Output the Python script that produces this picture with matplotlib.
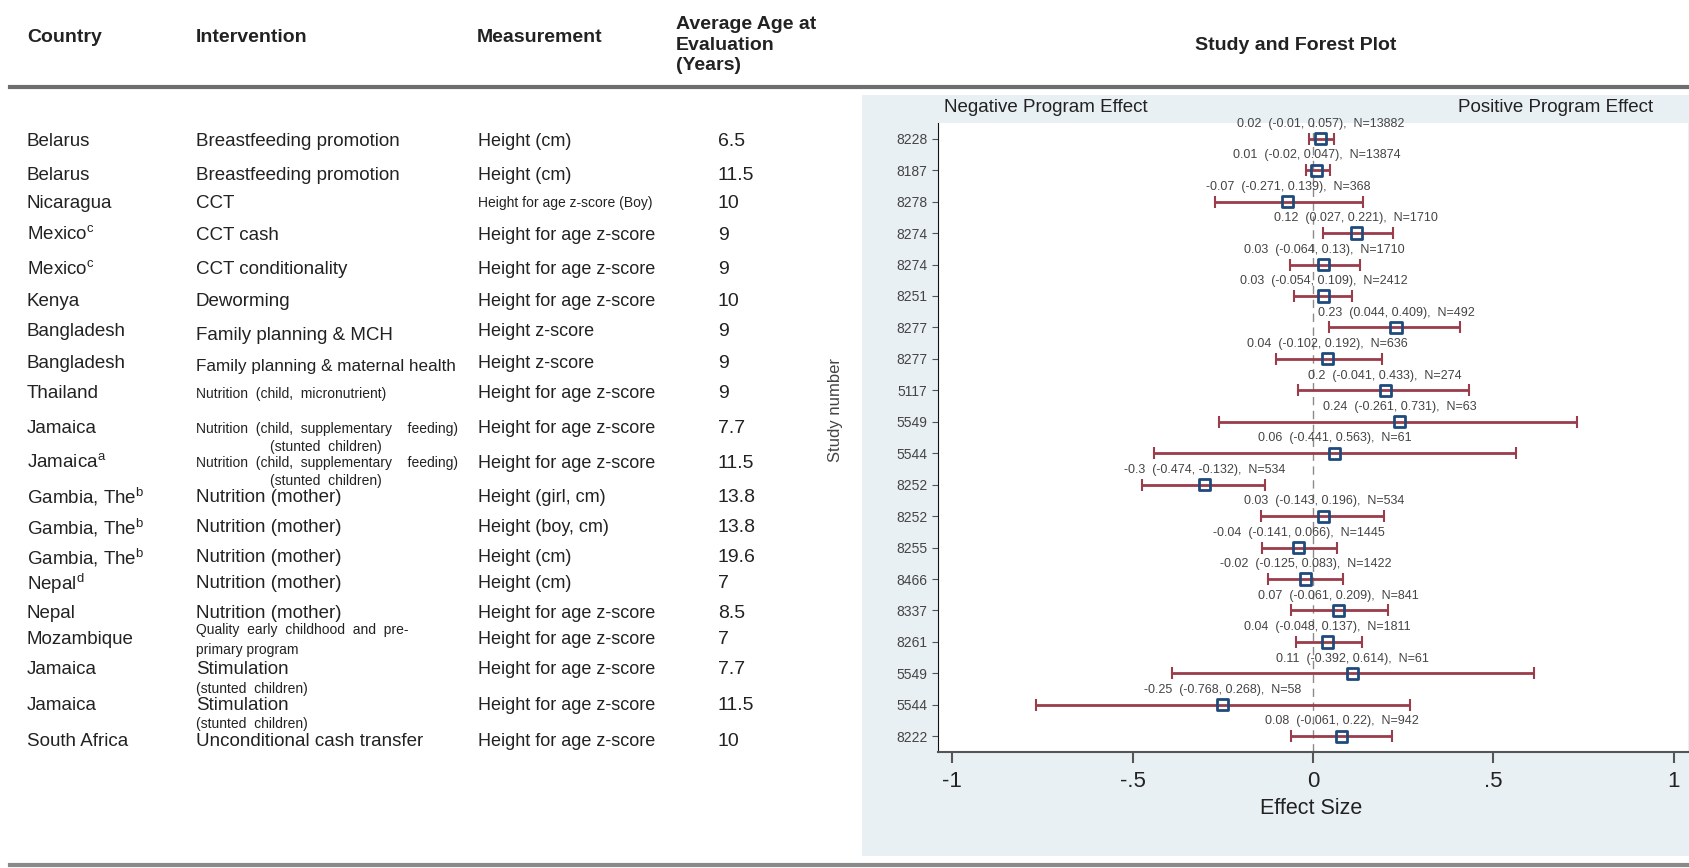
import numpy as np
import matplotlib
matplotlib.use("Agg")
import matplotlib.pyplot as plt
from matplotlib.patches import Rectangle
from matplotlib.lines import Line2D

plt.rcParams['font.family'] = ['Liberation Sans', 'DejaVu Sans']
plt.rcParams['mathtext.fontset'] = 'custom'
plt.rcParams['mathtext.rm'] = 'Liberation Sans'

# ---- table (left part)
countries = ["Belarus", "Belarus", "Nicaragua", r"Mexico$^\mathregular{c}$", r"Mexico$^\mathregular{c}$",
             "Kenya", "Bangladesh", "Bangladesh", "Thailand", "Jamaica", r"Jamaica$^\mathregular{a}$",
             r"Gambia, The$^\mathregular{b}$", r"Gambia, The$^\mathregular{b}$", r"Gambia, The$^\mathregular{b}$",
             r"Nepal$^\mathregular{d}$", "Nepal", "Mozambique", "Jamaica", "Jamaica", "South Africa"]
interventions = ["Breastfeeding promotion", "Breastfeeding promotion", "CCT", "CCT cash",
                 "CCT conditionality", "Deworming", "Family planning & MCH",
                 "Family planning & maternal health", "Nutrition  (child,  micronutrient)",
                 "Nutrition  (child,  supplementary    feeding)\n(stunted  children)",
                 "Nutrition  (child,  supplementary    feeding)\n(stunted  children)",
                 "Nutrition (mother)", "Nutrition (mother)", "Nutrition (mother)",
                 "Nutrition (mother)", "Nutrition (mother)",
                 "Quality  early  childhood  and  pre-\nprimary program",
                 "Stimulation\n(stunted  children)", "Stimulation\n(stunted  children)",
                 "Unconditional cash transfer"]
measurements = ["Height (cm)", "Height (cm)", "Height for age z-score (Boy)",
                "Height for age z-score", "Height for age z-score", "Height for age z-score",
                "Height z-score", "Height z-score", "Height for age z-score",
                "Height for age z-score", "Height for age z-score", "Height (girl, cm)",
                "Height (boy, cm)", "Height (cm)", "Height (cm)", "Height for age z-score",
                "Height for age z-score", "Height for age z-score", "Height for age z-score",
                "Height for age z-score"]
ages = [6.5, 11.5, 10, 9, 9, 10, 9, 9, 9, 7.7, 11.5, 13.8, 13.8, 19.6, 7, 8.5, 7, 7.7, 11.5, 10]

# ---- forest plot (right part)
study = ["8228", "8187", "8278", "8274", "8274", "8251", "8277", "8277", "5117", "5549",
         "5544", "8252", "8252", "8255", "8466", "8337", "8261", "5549", "5544", "8222"]
est = np.array([0.02, 0.01, -0.07, 0.12, 0.03, 0.03, 0.23, 0.04, 0.2, 0.24,
                0.06, -0.3, 0.03, -0.04, -0.02, 0.07, 0.04, 0.11, -0.25, 0.08])
lo = np.array([-0.01, -0.02, -0.271, 0.027, -0.064, -0.054, 0.044, -0.102, -0.041, -0.261,
               -0.441, -0.474, -0.143, -0.141, -0.125, -0.061, -0.048, -0.392, -0.768, -0.061])
hi = np.array([0.057, 0.047, 0.139, 0.221, 0.13, 0.109, 0.409, 0.192, 0.433, 0.731,
               0.563, -0.132, 0.196, 0.066, 0.083, 0.209, 0.137, 0.614, 0.268, 0.22])
n_obs = [13882, 13874, 368, 1710, 1710, 2412, 492, 636, 274, 63,
         61, 534, 534, 1445, 1422, 841, 1811, 61, 58, 942]

W, H = 1690, 868
fig = plt.figure(figsize=(W / 100, H / 100), dpi=100)


def fx(x):
    return x / W


def fy(y):
    return 1 - y / H


txt = '#222222'

# background panel of the forest plot
fig.patches.append(Rectangle((fx(862), fy(856)), (W - 862) / W, (856 - 95) / H,
                             transform=fig.transFigure, facecolor='#e9f0f3',
                             edgecolor='none', zorder=-5))

# rules
fig.add_artist(Line2D([fx(10), 1], [fy(87), fy(87)], color='#6e6e6e', lw=3))
fig.add_artist(Line2D([fx(10), 1], [fy(865), fy(865)], color='#8a8a8a', lw=3))

# header
hdr = dict(fontsize=14, fontweight='bold', color=txt, va='center')
fig.text(fx(27), fy(38), "Country", **hdr)
fig.text(fx(196), fy(38), "Intervention", **hdr)
fig.text(fx(477), fy(38), "Measurement", **hdr)
fig.text(fx(676), fy(45), "Average Age at\nEvaluation\n(Years)", linespacing=1.25, **hdr)
fig.text(fx(1296), fy(45), "Study and Forest Plot", ha='center', **hdr)

# table rows
row_y = [142, 176, 203, 235, 270, 302, 331, 363, 394, 429,
         463, 497, 528, 558, 584, 613, 640, 670, 705, 741]
small_int = {8, 16}
two_small = {9, 10}
sub_line = {17, 18}
small_meas = {2}
big = 13.5
sm = 10

for i, y in enumerate(row_y):
    fig.text(fx(27), fy(y), countries[i], fontsize=big, color=txt, va='center')
    it = interventions[i]
    if i in two_small:
        l1, l2 = it.split("\n")
        fig.text(fx(196), fy(y), l1, fontsize=sm, color=txt, va='center')
        fig.text(fx(326), fy(y + 18), l2, fontsize=sm, color=txt, va='center', ha='center')
    elif i in small_int:
        fig.text(fx(196), fy(y), it, fontsize=sm, color=txt, va='center', linespacing=1.55)
    elif i in sub_line:
        l1, l2 = it.split("\n")
        fig.text(fx(196), fy(y), l1, fontsize=big, color=txt, va='center')
        fig.text(fx(196), fy(y + 19), l2, fontsize=sm, color=txt, va='center')
    else:
        fig.text(fx(196), fy(y + (4 if i in (6, 7) else 0)), it,
                 fontsize=12.3 if i == 7 else big, color=txt, va='center')
    fig.text(fx(478), fy(y), measurements[i], fontsize=10 if i in small_meas else 13,
             color=txt, va='center')
    fig.text(fx(718), fy(y), '%g' % ages[i], fontsize=14, color=txt, va='center')

# forest plot
ax = fig.add_axes([fx(938), fy(752), (1688 - 938) / W, (752 - 123) / H])
rows = np.arange(len(study))
ax.axvline(0, color='#8a8a8a', lw=1, ls=(0, (6, 4)), zorder=0)
ax.errorbar(est, rows, xerr=[est - lo, hi - est], fmt='none', ecolor='#9a3c4a',
            elinewidth=2, capsize=4, capthick=1.5, zorder=2)
ax.scatter(est, rows, marker='s', s=65, facecolors='none', edgecolors='#1f4a7c',
           linewidths=2, zorder=3)
for i in rows:
    lab = '%g  (%g, %g),  N=%d' % (est[i], lo[i], hi[i], n_obs[i])
    ax.text(est[i], i - 0.47, lab, ha='center', va='center', fontsize=9, color='#444444')

ax.set_xlim(-1.04, 1.04)
ax.set_ylim(len(study) - 0.5, -0.5)
ax.set_yticks(rows)
ax.set_yticklabels(study)
ax.set_xticks([-1, -0.5, 0, 0.5, 1])
ax.set_xticklabels(['-1', '-.5', '0', '.5', '1'])
for s in ['top', 'right']:
    ax.spines[s].set_visible(False)
ax.spines['left'].set_color('#111111')
ax.spines['bottom'].set_color('#555555')
ax.spines['bottom'].set_linewidth(1.5)
ax.tick_params(axis='y', labelsize=10, labelcolor='#444444', length=4, color='#555555')
ax.tick_params(axis='x', labelsize=16, labelcolor=txt, length=8, width=1.5,
               color='#555555', pad=6)

fig.text(fx(1311), fy(808), "Effect Size", fontsize=15.5, color=txt, ha='center', va='center')
fig.text(fx(836), fy(410), "Study number", fontsize=12, color='#444444', rotation=90,
         ha='center', va='center')
fig.text(fx(944), fy(107), "Negative Program Effect", fontsize=13.5, color=txt, va='center')
fig.text(fx(1653), fy(107), "Positive Program Effect", fontsize=13.5, color=txt,
         va='center', ha='right')

plt.savefig('out.png', dpi=100)
